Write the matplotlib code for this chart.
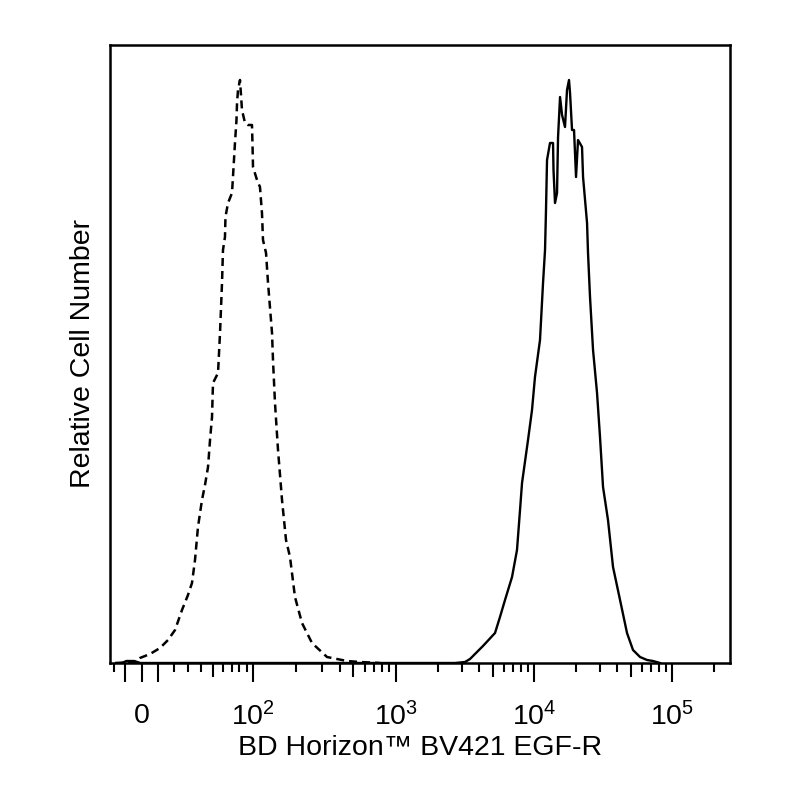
import numpy as np
import matplotlib.pyplot as plt
from matplotlib.ticker import FixedLocator, FixedFormatter, NullFormatter

plt.rcParams['font.family'] = ['Liberation Sans', 'DejaVu Sans']
plt.rcParams['mathtext.fontset'] = 'custom'
plt.rcParams['mathtext.rm'] = 'Liberation Sans'

# histogram data, x given as logicle display channel (0-1023), y as relative count
control_ch = [8.3, 41.3, 49.5, 66.1, 82.6, 95.8, 107.4, 118.9, 128.8, 135.4, 140.4,
              145.3, 151.9, 156.9, 161.9, 165.2, 168.5, 170.1, 178.4, 181.7, 185.0,
              186.6, 189.9, 190.7, 194.9, 201.5, 203.1, 206.4, 208.9, 209.8, 211.4,
              214.7, 218.0, 223.0, 227.9, 234.5, 235.3, 236.2, 242.8, 247.7, 251.0,
              252.7, 257.7, 261.0, 267.6, 269.2, 272.5, 277.5, 284.1, 290.7, 297.3,
              305.5, 317.1, 333.6, 358.4, 391.4, 412.9, 445.9]
control_cnt = [0, 1, 5, 9, 15, 23, 33, 53, 68, 80, 103,
               136, 163, 178, 196, 223, 246, 280, 290, 330, 380,
               413, 426, 446, 460, 470, 486, 520, 543, 560, 573,
               583, 553, 540, 538, 538, 520, 496, 483, 476, 450,
               423, 410, 380, 330, 303, 260, 213, 163, 123, 106,
               66, 40, 20, 6, 2, 1, 0]

egfr_ch = [20.0, 27.0, 40.0, 50.0, 569.8, 586.3, 594.6, 616.0, 635.9, 644.1, 652.4,
           664.0, 672.2, 677.2, 680.5, 690.4, 697.0, 701.9, 710.2, 715.2, 718.5,
           720.1, 721.8, 726.7, 731.7, 732.5, 735.0, 738.3, 740.0, 743.3, 746.6,
           751.5, 754.8, 758.1, 759.8, 763.1, 766.4, 769.7, 773.0, 779.6, 781.3,
           787.9, 789.5, 792.8, 797.8, 804.4, 809.3, 814.3, 822.5, 830.8, 842.4,
           853.9, 863.8, 875.4, 887.0, 896.8, 908.4]
egfr_cnt = [0, 2, 2, 0, 0, 1, 4, 17, 30, 46, 63,
            86, 113, 153, 180, 223, 253, 286, 323, 380, 413,
            453, 503, 520, 520, 493, 460, 470, 526, 566, 548,
            536, 573, 583, 570, 533, 533, 486, 523, 516, 486,
            440, 410, 366, 313, 270, 226, 176, 143, 96, 63,
            30, 13, 6, 3, 2, 0]

major_ticks = [-10, 0, 10, 1e2, 1e3, 1e4, 1e5]
major_labels = ['', '0', '', r'$\mathregular{10^2}$', r'$\mathregular{10^3}$',
                r'$\mathregular{10^4}$', r'$\mathregular{10^5}$']
minor_ticks = [-17, 20, 30, 40, 50, 60, 70, 80, 90,
               200, 300, 400, 500, 600, 700, 800, 900,
               2000, 3000, 4000, 5000, 6000, 7000, 8000, 9000,
               20000, 30000, 40000, 50000, 60000, 70000, 80000, 90000, 200000]
medium_ticks = [50, 500, 5000, 50000]

# logicle (biexponential) scale
T = 262144.0
M = 4.5
W = 0.23


def logicle_consts(T, W, M):
    w = W / M
    x1 = w
    x0 = 2 * w
    b = M * np.log(10)
    lo, hi = 1e-9, b
    for _ in range(200):
        mid = 0.5 * (lo + hi)
        if 2 * (np.log(mid) - np.log(b)) + w * (b + mid) > 0:
            hi = mid
        else:
            lo = mid
    d = 0.5 * (lo + hi)
    c_a = np.exp(x0 * (b + d))
    mf_a = np.exp(b * x1) - c_a * np.exp(-d * x1)
    a = T / (np.exp(b) - mf_a - c_a * np.exp(-d))
    return a, b, c_a * a, d, -mf_a * a, x1


A_, B_, C_, D_, F_, X1 = logicle_consts(T, W, M)


def biex(x):
    x = np.asarray(x, dtype=float)
    xr = np.where(x >= X1, x, 2 * X1 - x)
    v = A_ * np.exp(B_ * xr) - C_ * np.exp(-D_ * xr) + F_
    return np.where(x >= X1, v, -v)


grid = np.linspace(-0.3, 1.3, 40001)
grid_v = biex(grid)


def forward(v):
    return np.interp(np.asarray(v, dtype=float), grid_v, grid)


def inverse(x):
    return np.interp(np.asarray(x, dtype=float), grid, grid_v)


control_x = biex(np.array(control_ch) / 1024)
egfr_x = biex(np.array(egfr_ch) / 1024)

fig = plt.figure(figsize=(8, 8), dpi=100)
ax = fig.add_axes([0.1375, 0.17125, 0.775, 0.7725])
ax.set_xscale('function', functions=(forward, inverse))

ax.plot(control_x, control_cnt, color='black', lw=1.8, linestyle=(0, (3.2, 2.0)))
ax.plot(egfr_x, egfr_cnt, color='black', lw=1.7)

ax.set_xlim(biex(0.0), T)
ax.set_ylim(0, 618)

ax.xaxis.set_major_locator(FixedLocator(major_ticks))
ax.xaxis.set_major_formatter(FixedFormatter(major_labels))
ax.xaxis.set_minor_locator(FixedLocator(minor_ticks))
ax.xaxis.set_minor_formatter(NullFormatter())
ax.tick_params(axis='x', which='major', direction='out', length=13.5, width=1.5,
               labelsize=20.5, pad=15)
ax.tick_params(axis='x', which='minor', direction='out', length=6.5, width=1.5)
ax.set_yticks([])

for tick, loc in zip(ax.xaxis.get_minor_ticks(len(minor_ticks)), minor_ticks):
    if loc in medium_ticks:
        tick.tick1line.set_markersize(10)

for s in ax.spines.values():
    s.set_linewidth(1.8)

ax.set_xlabel('BD Horizon™ BV421 EGF-R', fontsize=20.5, labelpad=2)
ax.set_ylabel('Relative Cell Number', fontsize=20.5, labelpad=10)

fig.savefig('out.png', dpi=100)
